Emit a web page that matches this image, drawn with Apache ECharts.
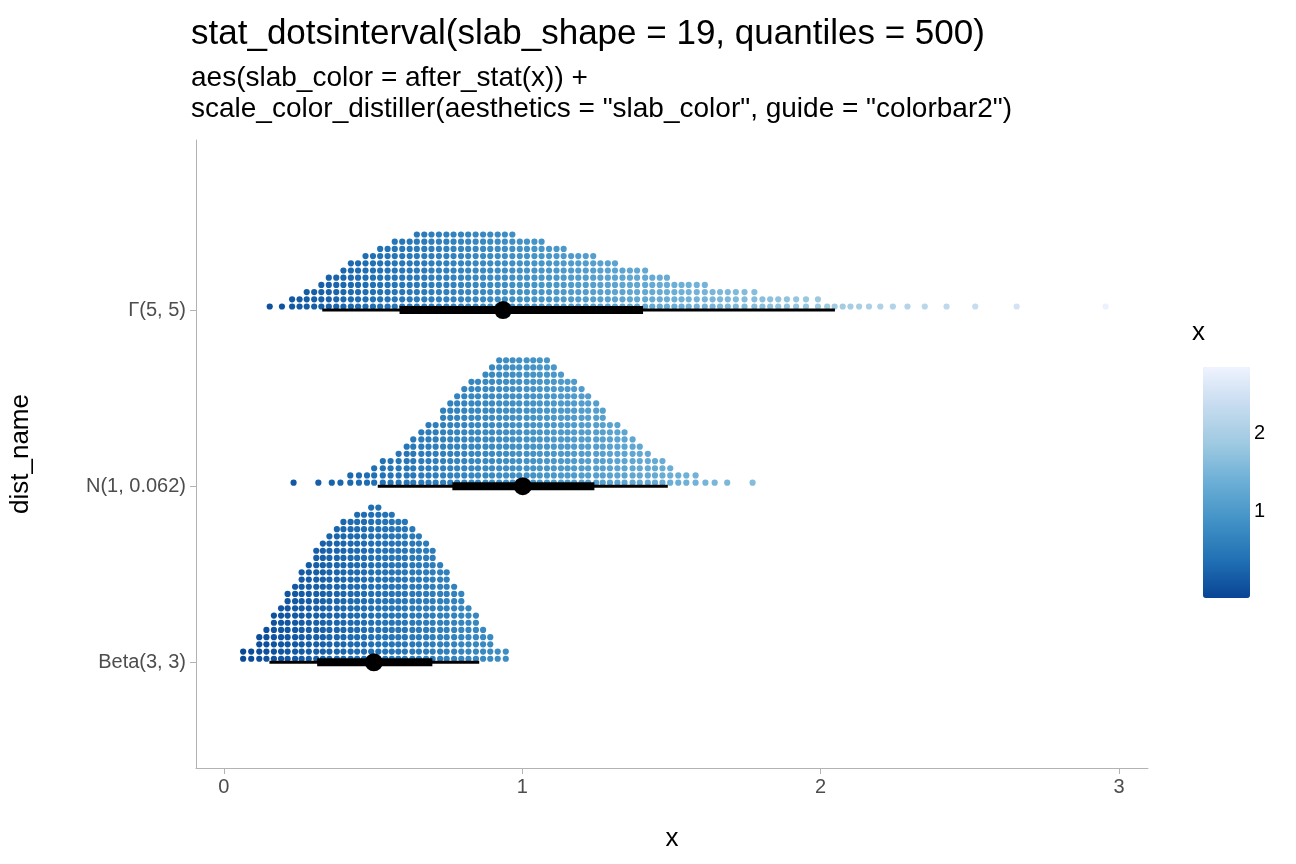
<!DOCTYPE html>
<html><head><meta charset="utf-8">
<script src="https://cdn.jsdelivr.net/npm/echarts@6/dist/echarts.min.js"></script>
<style>html,body{margin:0;padding:0;background:#fff}#c{width:1296px;height:864px}</style>
</head><body><div id="c"></div>
<script>
const distNames = ['Beta(3, 3)', 'N(1, 0.062)', 'Γ(5, 5)'];
const distRows = [1, 2, 3];
const xTicks = [0, 1, 2, 3];
const legendTicks = [1, 2];

// column centres (x) and dot counts per column
const betaX = [0.065,0.092,0.119,0.143,0.168,0.192,0.214,0.239,0.261,0.285,0.310,0.332,0.354,0.379,0.401,0.425,0.447,0.470,0.494,0.518,0.541,0.563,0.585,0.607,0.632,0.654,0.678,0.700,0.725,0.747,0.772,0.796,0.820,0.845,0.869,0.893,0.918,0.945];
const betaN = [2,2,4,5,7,8,10,11,13,14,16,17,18,19,20,20,21,21,22,22,21,21,20,20,19,18,17,16,14,13,11,10,8,7,5,4,2,2];

const normX = [0.234,0.317,0.362,0.391,0.424,0.453,0.480,0.504,0.533,0.559,0.586,0.613,0.635,0.662,0.686,0.710,0.735,0.759,0.782,0.806,0.830,0.852,0.877,0.899,0.923,0.946,0.968,0.990,1.015,1.037,1.059,1.083,1.106,1.130,1.152,1.174,1.199,1.221,1.248,1.270,1.294,1.319,1.343,1.370,1.394,1.421,1.445,1.470,1.496,1.523,1.550,1.581,1.614,1.645,1.687,1.772];
const normN = [1,1,1,1,2,2,2,3,4,4,5,6,7,8,9,9,11,12,13,14,15,15,16,17,18,18,18,18,18,18,18,18,17,16,15,15,14,13,12,11,9,9,8,7,6,5,4,4,3,2,2,2,1,1,1,1];

const gammaX = [0.154,0.195,0.229,0.254,0.278,0.303,0.327,0.352,0.377,0.401,0.426,0.450,0.475,0.500,0.524,0.549,0.573,0.598,0.623,0.647,0.672,0.696,0.721,0.746,0.770,0.795,0.819,0.844,0.869,0.893,0.918,0.942,0.967,0.992,1.016,1.041,1.065,1.090,1.115,1.139,1.164,1.188,1.213,1.238,1.262,1.287,1.311,1.336,1.361,1.385,1.412,1.436,1.461,1.485,1.510,1.534,1.558,1.585,1.612,1.638,1.663,1.689,1.716,1.745,1.778,1.805,1.831,1.858,1.887,1.918,1.951,1.991,2.022,2.047,2.074,2.100,2.129,2.162,2.200,2.242,2.291,2.349,2.422,2.518,2.657,2.955];
const gammaN = [1,1,2,2,3,3,4,5,5,6,7,7,8,8,9,9,10,10,10,11,11,11,11,11,11,11,11,11,11,11,11,11,11,10,10,10,10,9,9,9,8,8,8,8,7,7,7,6,6,6,6,5,5,5,4,4,4,4,4,3,3,3,3,3,3,2,2,2,2,2,2,2,1,1,1,1,1,1,1,1,1,1,1,1,1,1];

// intervals: [row, thinLo, thinHi, thickLo, thickHi, point]
const betaInt = [1, 0.153, 0.856, 0.313, 0.699, 0.503];
const normInt = [2, 0.516, 1.488, 0.766, 1.242, 1.002];
const gammaInt = [3, 0.330, 2.048, 0.589, 1.405, 0.936];

const colorRange = [0.02, 3.0];
const blues = ['#084594','#2171B5','#4292C6','#6BAED6','#9ECAE1','#C6DBEF','#EFF3FF'];

function dots(xs, ns, row) {
  const out = [];
  xs.forEach((x, i) => { for (let k = 0; k < ns[i]; k++) out.push([x, row, k]); });
  return out;
}
const dotData = [].concat(dots(betaX, betaN, 1), dots(normX, normN, 2), dots(gammaX, gammaN, 3));
const ints = [betaInt, normInt, gammaInt];
const segData = [];
ints.forEach(d => { segData.push([d[1], d[0], d[2], 3]); segData.push([d[3], d[0], d[4], 8]); });
const ptData = ints.map(d => [d[5], d[0]]);

const FONT = 'Liberation Sans, Arial, sans-serif';
const chart = echarts.init(document.getElementById('c'));
chart.setOption({
  animation: false,
  textStyle: {fontFamily: FONT},
  title: [
    {text: 'stat_dotsinterval(slab_shape = 19, quantiles = 500)', left: 186, top: 12,
     textStyle: {fontSize: 35, fontWeight: 'normal', color: '#000', fontFamily: FONT}},
    {text: 'aes(slab_color = after_stat(x)) +\nscale_color_distiller(aesthetics = "slab_color", guide = "colorbar2")',
     left: 186, top: 58, textStyle: {fontSize: 28, fontWeight: 'normal', color: '#000', lineHeight: 31, fontFamily: FONT}}
  ],
  grid: {left: 190, right: 148, top: 140, bottom: 96},
  xAxis: {type: 'value', min: -0.093, max: 3.097, name: 'x', nameLocation: 'middle', nameGap: 58,
    nameTextStyle: {fontSize: 26, color: '#000'},
    axisLine: {show: true, onZero: false, lineStyle: {color: '#b3b3b3'}},
    axisTick: {show: true, customValues: xTicks, length: 6, lineStyle: {color: '#b3b3b3'}},
    axisLabel: {customValues: xTicks, fontSize: 20, color: '#4d4d4d', margin: 9},
    splitLine: {show: false}},
  yAxis: {type: 'value', min: 0.4, max: 3.966, name: 'dist_name', nameLocation: 'middle', nameGap: 162,
    nameTextStyle: {fontSize: 26, color: '#000'},
    axisLine: {show: true, onZero: false, lineStyle: {color: '#b3b3b3'}},
    axisTick: {show: true, customValues: distRows, length: 6, lineStyle: {color: '#b3b3b3'}},
    axisLabel: {customValues: distRows, fontSize: 20, color: '#4d4d4d', margin: 10,
      formatter: v => distNames[Math.round(v) - 1] || ''},
    splitLine: {show: false}},
  visualMap: {type: 'continuous', seriesIndex: 0, dimension: 0, min: colorRange[0], max: colorRange[1],
    inRange: {color: blues}, left: 1188, top: 352, itemWidth: 47, itemHeight: 231,
    calculable: false, text: ['', ''], showLabel: false},
  graphic: [
    {type: 'text', left: 1192, top: 320, style: {text: 'x', fontSize: 26, fill: '#000', fontFamily: FONT}},
    ...legendTicks.map(v => {
      const y = 588 - (v - colorRange[0]) / (colorRange[1] - colorRange[0]) * 231;
      return {type: 'group', children: [
        {type: 'line', shape: {x1: 1193, y1: y, x2: 1202, y2: y}, style: {stroke: '#fff', lineWidth: 1, opacity: 0.7}},
        {type: 'line', shape: {x1: 1231, y1: y, x2: 1240, y2: y}, style: {stroke: '#fff', lineWidth: 1, opacity: 0.7}},
        {type: 'text', x: 1254, y: y - 11, style: {text: String(v), fontSize: 20, fill: '#000', fontFamily: FONT}}
      ]};
    })
  ],
  series: [
    {type: 'custom', data: dotData, encode: {x: 0, y: 1},
     renderItem: (params, api) => {
       const p = api.coord([api.value(0), api.value(1)]);
       return {type: 'circle', shape: {cx: p[0], cy: p[1] - 3.6 - api.value(2) * 7.2, r: 3.1},
         style: {fill: api.visual('color')}};
     }},
    {type: 'custom', data: segData, encode: {x: [0, 2], y: 1},
     renderItem: (params, api) => {
       const a = api.coord([api.value(0), api.value(1)]);
       const b = api.coord([api.value(2), api.value(1)]);
       const w = api.value(3);
       return {type: 'rect', shape: {x: a[0], y: a[1] - w / 2, width: b[0] - a[0], height: w},
         style: {fill: '#000'}};
     }},
    {type: 'scatter', data: ptData, symbolSize: 18, itemStyle: {color: '#000', opacity: 1}, z: 5}
  ]
});
</script></body></html>
